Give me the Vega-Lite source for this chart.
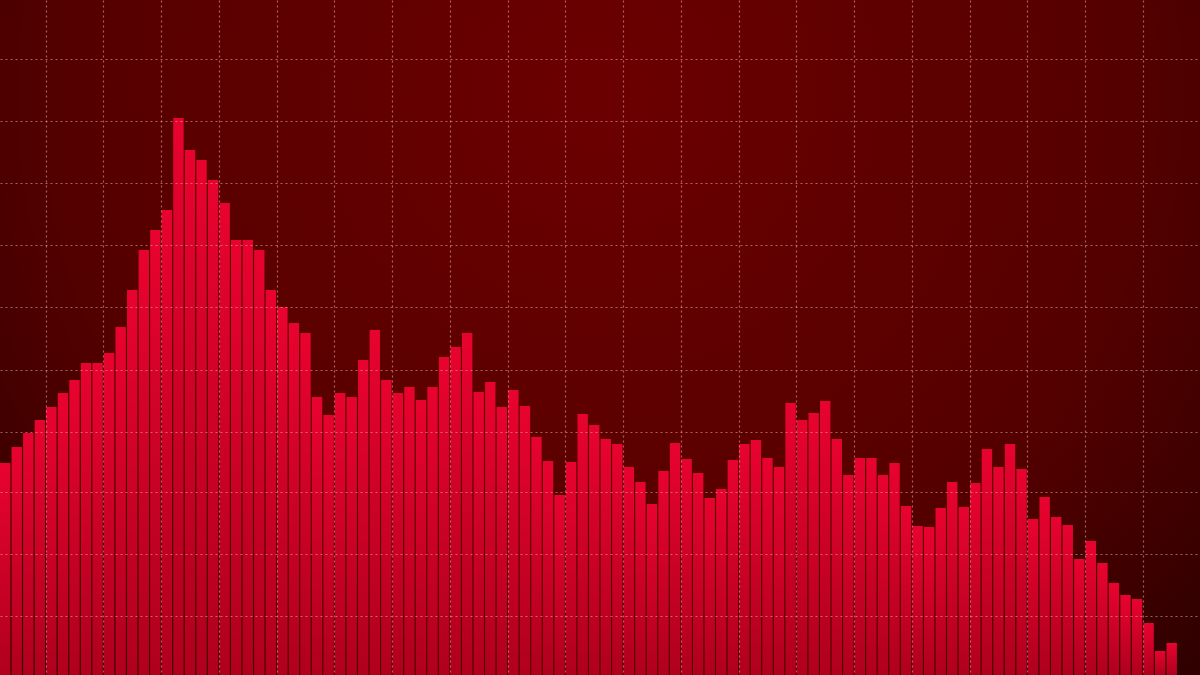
{
  "$schema": "https://vega.github.io/schema/vega-lite/v6.json",
  "autosize": {"type": "fit", "contains": "padding"},
  "width": 1200,
  "height": 675,
  "padding": 0,
  "background": "#4a0000",
  "config": {
    "view": {
      "stroke": null,
      "fill": {"gradient": "radial", "x1": 0.5, "y1": 0.3, "r1": 0, "x2": 0.5, "y2": 0.3, "r2": 0.75,
        "stops": [{"offset": 0, "color": "#6c0000"}, {"offset": 0.6, "color": "#540000"}, {"offset": 1, "color": "#260000"}]}
    }
  },
  "data": {"values": [
    {"i":1,"v":212},{"i":2,"v":228},{"i":3,"v":242},{"i":4,"v":255},{"i":5,"v":268},{"i":6,"v":282},{"i":7,"v":295},{"i":8,"v":312},{"i":9,"v":312},{"i":10,"v":322},
    {"i":11,"v":348},{"i":12,"v":385},{"i":13,"v":425},{"i":14,"v":445},{"i":15,"v":465},{"i":16,"v":557},{"i":17,"v":525},{"i":18,"v":515},{"i":19,"v":495},{"i":20,"v":472},
    {"i":21,"v":435},{"i":22,"v":435},{"i":23,"v":425},{"i":24,"v":385},{"i":25,"v":368},{"i":26,"v":352},{"i":27,"v":342},{"i":28,"v":278},{"i":29,"v":260},{"i":30,"v":282},
    {"i":31,"v":278},{"i":32,"v":315},{"i":33,"v":345},{"i":34,"v":295},{"i":35,"v":282},{"i":36,"v":288},{"i":37,"v":275},{"i":38,"v":288},{"i":39,"v":318},{"i":40,"v":328},
    {"i":41,"v":342},{"i":42,"v":283},{"i":43,"v":293},{"i":44,"v":268},{"i":45,"v":285},{"i":46,"v":269},{"i":47,"v":238},{"i":48,"v":214},{"i":49,"v":180},{"i":50,"v":213},
    {"i":51,"v":261},{"i":52,"v":250},{"i":53,"v":236},{"i":54,"v":231},{"i":55,"v":208},{"i":56,"v":193},{"i":57,"v":171},{"i":58,"v":204},{"i":59,"v":232},{"i":60,"v":216},
    {"i":61,"v":202},{"i":62,"v":177},{"i":63,"v":186},{"i":64,"v":215},{"i":65,"v":231},{"i":66,"v":235},{"i":67,"v":217},{"i":68,"v":208},{"i":69,"v":272},{"i":70,"v":255},
    {"i":71,"v":262},{"i":72,"v":274},{"i":73,"v":236},{"i":74,"v":200},{"i":75,"v":217},{"i":76,"v":217},{"i":77,"v":200},{"i":78,"v":212},{"i":79,"v":169},{"i":80,"v":149},
    {"i":81,"v":148},{"i":82,"v":167},{"i":83,"v":193},{"i":84,"v":168},{"i":85,"v":192},{"i":86,"v":226},{"i":87,"v":208},{"i":88,"v":231},{"i":89,"v":206},{"i":90,"v":156},
    {"i":91,"v":178},{"i":92,"v":158},{"i":93,"v":150},{"i":94,"v":116},{"i":95,"v":134},{"i":96,"v":112},{"i":97,"v":92},{"i":98,"v":80},{"i":99,"v":76},{"i":100,"v":52},
    {"i":101,"v":24},{"i":102,"v":32},{"i":103,"v":0},{"i":104,"v":0}
  ]},
  "mark": {
    "type": "bar",
    "color": {"gradient": "linear", "x1": 0, "y1": 0, "x2": 0, "y2": 1,
      "stops": [{"offset": 0, "color": "#e8032f"}, {"offset": 1, "color": "#b0001e"}]},
    "cornerRadius": 0
  },
  "encoding": {
    "x": {
      "field": "i", "type": "ordinal",
      "scale": {"paddingInner": 0.1, "paddingOuter": 0},
      "axis": {
        "values": [5, 10, 15, 20, 25, 30, 35, 40, 45, 50, 55, 60, 65, 70, 75, 80, 85, 90, 95, 100],
        "grid": true, "bandPosition": 0, "gridColor": "#f0b0b0", "gridOpacity": 0.55, "gridDash": [2, 3], "gridWidth": 1.2,
        "domain": false, "ticks": false, "labels": false, "title": null, "zindex": 1
      }
    },
    "y": {
      "field": "v", "type": "quantitative",
      "scale": {"domain": [0, 675], "nice": false, "zero": true},
      "axis": {
        "values": [59, 121, 183, 243, 305, 368, 430, 492, 554, 616],
        "grid": true, "gridColor": "#f0b0b0", "gridOpacity": 0.55, "gridDash": [2, 3], "gridWidth": 1.2,
        "domain": false, "ticks": false, "labels": false, "title": null, "zindex": 1
      }
    }
  }
}
